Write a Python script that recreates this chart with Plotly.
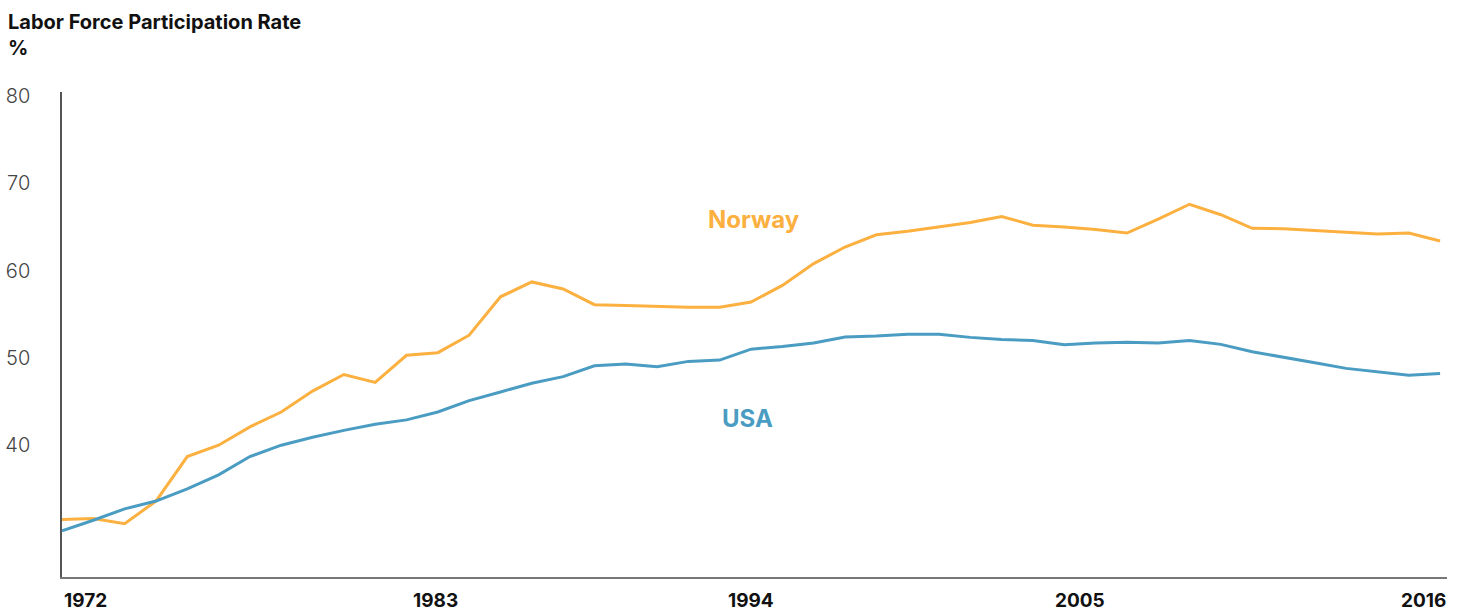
import plotly.graph_objects as go

years = list(range(1972, 2017))
norway = [31.5, 31.6, 31.0, 33.6, 38.7, 40.0, 42.1, 43.8, 46.2, 48.1,
          47.2, 50.3, 50.6, 52.6, 57.0, 58.7, 57.9, 56.1, 56.0, 55.9,
          55.8, 55.8, 56.4, 58.3, 60.8, 62.7, 64.1, 64.5, 65.0, 65.5,
          66.2, 65.2, 65.0, 64.7, 64.3, 65.9, 67.6, 66.4, 64.85, 64.8,
          64.6, 64.4, 64.2, 64.3, 63.4]
usa = [30.2, 31.4, 32.7, 33.6, 35.0, 36.6, 38.7, 40.0, 40.9, 41.7,
       42.4, 42.9, 43.8, 45.1, 46.1, 47.1, 47.85, 49.1, 49.3, 49.0,
       49.6, 49.75, 51.0, 51.3, 51.7, 52.4, 52.5, 52.7, 52.7, 52.35,
       52.1, 52.0, 51.5, 51.7, 51.8, 51.7, 52.0, 51.55, 50.7, 50.1,
       49.45, 48.8, 48.4, 48.0, 48.2]

x_labels = ["1972", "1983", "1994", "2005", "2016"]
x_label_years = [1972, 1983, 1994, 2005, 2016]
x_label_shift = [23, 29, 0, -16, -17]
y_ticks = [40, 50, 60, 70, 80]

ORANGE = "#FBB040"
BLUE = "#4A9CC2"
FONT = "Inter, Roboto, sans-serif"

fig = go.Figure()
fig.add_trace(go.Scatter(x=years, y=norway, mode="lines", name="Norway",
                         line=dict(color=ORANGE, width=3), hoverinfo="x+y"))
fig.add_trace(go.Scatter(x=years, y=usa, mode="lines", name="USA",
                         line=dict(color=BLUE, width=3), hoverinfo="x+y"))

annotations = []
for lab, yr, sh in zip(x_labels, x_label_years, x_label_shift):
    annotations.append(dict(x=yr, y=0, xref="x", yref="paper", text=lab,
                            showarrow=False, xanchor="center", yanchor="top",
                            xshift=sh, yshift=-10,
                            font=dict(family=FONT, size=19, color="#111", weight=700)))
annotations.append(dict(x=1994.1, y=65.9, xref="x", yref="y", text="Norway",
                        showarrow=False, xanchor="center", yanchor="middle",
                        font=dict(family=FONT, size=24, color=ORANGE, weight=700)))
annotations.append(dict(x=1993.9, y=43.1, xref="x", yref="y", text="USA",
                        showarrow=False, xanchor="center", yanchor="middle",
                        font=dict(family=FONT, size=24, color=BLUE, weight=700)))
annotations.append(dict(x=(6 - 62) / 1385, y=1 + (92 - 8) / 485, xref="paper", yref="paper",
                        text="Labor Force Participation Rate<br>%", align="left",
                        showarrow=False, xanchor="left", yanchor="top",
                        font=dict(family=FONT, size=20, color="#111", weight=700)))

fig.update_layout(
    width=1463, height=609,
    margin=dict(l=62, r=16, t=92, b=32, autoexpand=False),
    paper_bgcolor="white", plot_bgcolor="white",
    showlegend=False,
    xaxis=dict(range=[1972, 2016.22], showgrid=False, zeroline=False,
               showticklabels=False, ticks="", automargin=False,
               showline=True, linecolor="#777", linewidth=2),
    yaxis=dict(range=[24.9, 80.46], showgrid=False, zeroline=False,
               tickvals=y_ticks, ticks="", ticklabelstandoff=26, automargin=False,
               tickfont=dict(family=FONT, size=20, color="#444", weight=300),
               showline=True, linecolor="#555", linewidth=1.5),
    annotations=annotations,
)

fig.write_html("out.html", config={"displayModeBar": False},
               post_script="document.body.style.margin='0';")
